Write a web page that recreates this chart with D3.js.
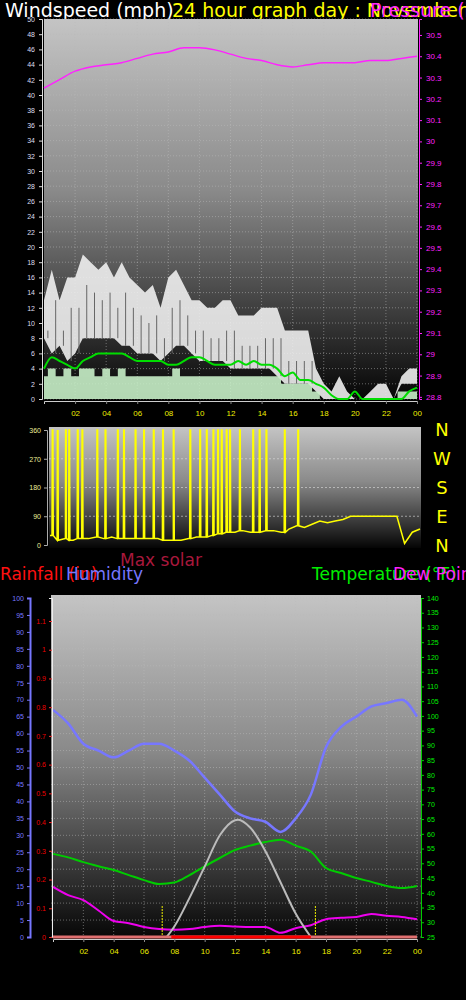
<!DOCTYPE html>
<html><head><meta charset="utf-8">
<script src="https://cdn.jsdelivr.net/npm/d3@7"></script>
<style>body{margin:0;background:#000}svg{display:block;font-family:"DejaVu Sans",sans-serif}</style>
</head><body>
<script>
// half-hour samples 0..24
const halfHours = d3.range(0, 24.01, 0.5);
const gustHi = [13,17,13,16,16,19,18,17,18,16,18,16,15,14,15,12,16,17,15,13,13,12,12,13,13,11,11,11,12,12,12,9,9,9,9,4,2,1,3,1,0,0,1,2,2,0,3,4,4];
const gustLo = [8,6,7,5,6,8,8,8,8,8,7,7,6,6,6,5,6,7,7,6,5,5,5,5,4,4,4,4,4,4,3,2,2,2,2,1,0,0,0,0,0,0,0,0,0,0,2,2,2];
const windHi = [3,4,3,4,3,4,4,3,4,3,4,3,3,3,3,3,3,4,3,3,3,3,3,3,3,3,3,3,3,3,3,2,2,2,2,1,0,0,0,0,0,0,0,0,0,0,1,1,1];
const windAvg = [4,5.5,5,4.5,4,5,5.5,6,6,6,6,5.5,5,5,5,5,4.5,4.5,5,5.5,5.5,5,4.5,4.5,4.5,5,4.5,5,4.5,4.5,4,3,3.5,2.5,2.5,2,1.5,0.5,0,0,1,0,0,0,0,0,0,1,1.5];
const dirBase = [30,15,20,15,20,20,25,20,25,20,20,20,20,20,20,15,15,15,20,25,25,30,35,40,40,45,40,40,45,45,40,50,60,55,65,75,70,75,80,90,90,90,90,90,90,90,5,40,50];
const dirSpikes = [0.17,0.5,1.03,1.25,1.8,2.1,3.07,3.6,4.4,4.8,5.55,6.1,6.73,7.33,8.02,9.1,9.74,10.17,10.6,10.9,11.14,11.46,11.68,12.32,13.18,13.6,14.04,15.23,16.1];

const hours = d3.range(0, 24.01, 1);
const pressure = [30.25,30.29,30.33,30.35,30.36,30.37,30.39,30.41,30.42,30.44,30.44,30.43,30.41,30.39,30.38,30.36,30.35,30.36,30.37,30.37,30.37,30.38,30.38,30.39,30.40];
const humidity = [67,63,57,55,53,55,57,57,55,52,47,42,37,35,34,31,35,42,56,62,65,68,69,70,65];
const temperature = [53.2,52,50.4,49,47.7,46,44.3,43,43.5,46,49,51.8,54.5,56,57.2,58,56,54,48.4,46.7,45,43.7,42.3,41.6,42.3];
const dewPoint = [42,39.2,37.5,34,30.4,29.7,28.4,27.7,27.5,27.7,28.4,28.8,28.6,28.4,28.4,26.4,28,29,31,31.5,31.8,32.8,32.2,31.8,31];
const solarHours = [7.5,8,9,10,11,12,12.2,13,14,15,16,17];
const maxSolar = [0,40,150,270,390,448,450,420,330,210,90,0];
const tickHours = d3.range(2, 24.01, 2);
const fmtHour = h => String(h % 24).padStart(2, '0');

const svg = d3.select('body').append('svg').attr('width', 466).attr('height', 1000);
const defs = svg.append('defs');
const grad = defs.append('linearGradient').attr('id', 'bg').attr('x1', 0).attr('x2', 0).attr('y1', 0).attr('y2', 1);
grad.append('stop').attr('offset', '0%').attr('stop-color', '#c4c4c4');
grad.append('stop').attr('offset', '45%').attr('stop-color', '#8a8a8a');
grad.append('stop').attr('offset', '100%').attr('stop-color', '#050505');

// ---------- titles
const title = (x, y, t, c, s) => svg.append('text').attr('x', x).attr('y', y).attr('fill', c).attr('font-size', s).text(t);
title(5, 17, 'Windspeed (mph)', '#fff', 19);
title(172, 17, '24 hour graph day : November 26 2', '#ffff00', 19);
title(370, 17, 'Pressure (in)', '#ff22ff', 19);

// ---------- top panel
const xT = d3.scaleLinear().domain([0, 24]).range([44, 417]);
const yW = d3.scaleLinear().domain([0, 50]).range([399, 19]);
const yP = d3.scaleLinear().domain([28.79, 30.575]).range([399, 19]);
svg.append('rect').attr('x', 44).attr('y', 19).attr('width', 374).attr('height', 381).attr('fill', 'url(#bg)');
const gT = svg.append('g');
gT.selectAll('.hg').data(d3.range(0, 51, 2)).join('line')
  .attr('x1', 44).attr('x2', 418).attr('y1', d => yW(d)).attr('y2', d => yW(d))
  .attr('stroke', '#bbb').attr('stroke-opacity', 0.5).attr('stroke-dasharray', '1,2');
gT.selectAll('.vg').data(tickHours).join('line')
  .attr('x1', d => xT(d)).attr('x2', d => xT(d)).attr('y1', 19).attr('y2', 399)
  .attr('stroke', '#bbb').attr('stroke-opacity', 0.5).attr('stroke-dasharray', '1,2');

gT.append('path').datum(halfHours)
  .attr('d', d3.area().x(h => xT(h)).y0((h, i) => yW(gustLo[i])).y1((h, i) => yW(gustHi[i])))
  .attr('fill', '#eee').attr('fill-opacity', 0.9);
gT.selectAll('.gs').data(halfHours).join('line')
  .attr('x1', h => xT(h + 0.25)).attr('x2', h => xT(h + 0.25))
  .attr('y1', (h, i) => yW(gustLo[i])).attr('y2', (h, i) => yW(Math.max(gustHi[i] - 4, gustLo[i])))
  .attr('stroke', '#666').attr('stroke-width', 1);
gT.append('path').datum(halfHours)
  .attr('d', d3.area().curve(d3.curveStep).x(h => xT(h)).y0(yW(0)).y1((h, i) => yW(windHi[i])))
  .attr('fill', '#c8f0c8').attr('fill-opacity', 0.9);
gT.append('path').datum(halfHours)
  .attr('d', d3.line().curve(d3.curveMonotoneX).x(h => xT(h)).y((h, i) => yW(windAvg[i])))
  .attr('fill', 'none').attr('stroke', '#00dd00').attr('stroke-width', 2);
gT.append('path').datum(hours)
  .attr('d', d3.line().curve(d3.curveMonotoneX).x(h => xT(h)).y((h, i) => yP(pressure[i])))
  .attr('fill', 'none').attr('stroke', '#ff22ff').attr('stroke-width', 1.5);

const axL = svg.append('g').attr('transform', 'translate(42,0)')
  .call(d3.axisLeft(yW).tickValues(d3.range(0, 51, 2)).tickSize(3).tickPadding(4));
axL.selectAll('text').attr('fill', '#dde').attr('font-size', 7);
axL.selectAll('line,path').attr('stroke', '#ddd');
const axR = svg.append('g').attr('transform', 'translate(419,0)')
  .call(d3.axisRight(yP).tickValues(d3.range(28.8, 30.51, 0.1)).tickFormat(d => +d.toFixed(1)).tickSize(3).tickPadding(4));
axR.selectAll('text').attr('fill', '#ff22ff').attr('font-size', 8);
axR.selectAll('line,path').attr('stroke', '#ff22ff');
const axB = svg.append('g').attr('transform', 'translate(0,401)')
  .call(d3.axisBottom(xT).tickValues(tickHours).tickFormat(fmtHour).tickSize(3).tickPadding(6));
axB.selectAll('text').attr('fill', '#ee0').attr('font-size', 8);
axB.selectAll('line').attr('stroke', '#888');
axB.select('path').attr('stroke', '#ccc');

// ---------- direction panel
const xD = d3.scaleLinear().domain([0, 24]).range([50, 420]);
const yD = d3.scaleLinear().domain([0, 360]).range([545, 430]);
svg.append('rect').attr('x', 49).attr('y', 427).attr('width', 372).attr('height', 121).attr('fill', 'url(#bg)');
svg.append('g').selectAll('line').data([90, 180, 270]).join('line')
  .attr('x1', 49).attr('x2', 421).attr('y1', d => yD(d)).attr('y2', d => yD(d))
  .attr('stroke', '#ddd').attr('stroke-opacity', 0.6).attr('stroke-dasharray', '2,2');
const dirPts = halfHours.map((h, i) => [h, dirBase[i]]);
dirSpikes.forEach(s => {
  const b = dirBase[Math.round(s * 2)];
  dirPts.push([s - 0.04, b], [s - 0.02, 360], [s + 0.02, 360], [s + 0.04, b]);
});
dirPts.sort((a, b) => a[0] - b[0]);
svg.append('path').datum(dirPts)
  .attr('d', d3.line().x(d => xD(d[0])).y(d => yD(d[1])))
  .attr('fill', 'none').attr('stroke', '#ffff00').attr('stroke-width', 1.5);
const axD = svg.append('g').attr('transform', 'translate(47,0)')
  .call(d3.axisLeft(yD).tickValues([0, 90, 180, 270, 360]).tickSize(3).tickPadding(3));
axD.selectAll('text').attr('fill', '#ee9').attr('font-size', 7);
axD.selectAll('line,path').attr('stroke', '#aaa');
svg.append('g').selectAll('text').data(['N', 'W', 'S', 'E', 'N']).join('text')
  .attr('x', 442).attr('y', (d, i) => 436 + i * 29).attr('text-anchor', 'middle')
  .attr('fill', '#ffff00').attr('font-size', 18).text(d => d);

// ---------- bottom panel labels
title(120, 566, 'Max solar', '#a8183c', 17);
title(0, 580, 'Rainfall (in)', '#ff1010', 17);
title(66, 580, 'Humidity', '#7777ff', 17);
title(312, 580, 'Temperature (°F)', '#00ee00', 17);
title(393, 580, 'Dew Point', '#ff22ff', 17);

const xB = d3.scaleLinear().domain([0, 24]).range([53, 417]);
const yH = d3.scaleLinear().domain([0, 100]).range([937, 598]);
const yR = d3.scaleLinear().domain([0, 1.18]).range([937, 598]);
const yTmp = d3.scaleLinear().domain([25, 140]).range([937, 598]);
const yS = d3.scaleLinear().domain([0, 1300]).range([937, 598]);
svg.append('rect').attr('x', 51).attr('y', 595).attr('width', 370).attr('height', 345).attr('fill', 'url(#bg)');
const gB = svg.append('g');
gB.selectAll('.hg').data(d3.range(0, 101, 5)).join('line')
  .attr('x1', 51).attr('x2', 421).attr('y1', d => yH(d)).attr('y2', d => yH(d))
  .attr('stroke', '#bbb').attr('stroke-opacity', 0.5).attr('stroke-dasharray', '1,2');
gB.selectAll('.vg').data(tickHours).join('line')
  .attr('x1', d => xB(d)).attr('x2', d => xB(d)).attr('y1', 595).attr('y2', 937)
  .attr('stroke', '#bbb').attr('stroke-opacity', 0.5).attr('stroke-dasharray', '1,2');

gB.append('path').datum(hours)
  .attr('d', d3.line().curve(d3.curveMonotoneX).x(h => xB(h)).y((h, i) => yH(humidity[i])))
  .attr('fill', 'none').attr('stroke', '#7777ff').attr('stroke-width', 2.5);
gB.append('path').datum(hours)
  .attr('d', d3.line().curve(d3.curveMonotoneX).x(h => xB(h)).y((h, i) => yTmp(temperature[i])))
  .attr('fill', 'none').attr('stroke', '#00cc00').attr('stroke-width', 2);
gB.append('path').datum(hours)
  .attr('d', d3.line().curve(d3.curveMonotoneX).x(h => xB(h)).y((h, i) => yTmp(dewPoint[i])))
  .attr('fill', 'none').attr('stroke', '#ee00ee').attr('stroke-width', 2);
gB.append('path').datum(solarHours)
  .attr('d', d3.line().curve(d3.curveMonotoneX).x(h => xB(h)).y((h, i) => yS(maxSolar[i])))
  .attr('fill', 'none').attr('stroke', '#bbb').attr('stroke-width', 2);
gB.selectAll('.sun').data([7.2, 17.3]).join('line')
  .attr('x1', d => xB(d)).attr('x2', d => xB(d)).attr('y1', 906).attr('y2', 937)
  .attr('stroke', '#ee0').attr('stroke-dasharray', '2,1');
gB.append('line').attr('x1', 53).attr('x2', 417).attr('y1', yR(0)).attr('y2', yR(0)).attr('stroke', '#e07070').attr('stroke-width', 3);
gB.append('line').attr('x1', xB(7.8)).attr('x2', xB(17)).attr('y1', yR(0)).attr('y2', yR(0)).attr('stroke', '#ff0000').attr('stroke-width', 3);

const axH = svg.append('g').attr('transform', 'translate(30,0)')
  .call(d3.axisLeft(yH).tickValues(d3.range(0, 101, 5)).tickSize(3).tickPadding(3));
axH.selectAll('text').attr('fill', '#7777ff').attr('font-size', 7);
axH.selectAll('line,path').attr('stroke', '#7777ff');
axH.select('path').attr('stroke-width', 2);
const axRain = svg.append('g').attr('transform', 'translate(52,0)')
  .call(d3.axisLeft(yR).tickValues(d3.range(0, 1.11, 0.1)).tickFormat(d => d === 0 ? '0' : +d.toFixed(1)).tickSize(3).tickPadding(3));
axRain.selectAll('text').attr('fill', '#ee0000').attr('font-size', 7);
axRain.selectAll('line').attr('stroke', '#ee3333');
axRain.select('path').attr('stroke', '#eee');
const axT = svg.append('g').attr('transform', 'translate(421,0)')
  .call(d3.axisRight(yTmp).tickValues(d3.range(25, 141, 5)).tickSize(3).tickPadding(3));
axT.selectAll('text').attr('fill', '#00ee00').attr('font-size', 7);
axT.selectAll('line,path').attr('stroke', '#00cc00');
const axB2 = svg.append('g').attr('transform', 'translate(0,939)')
  .call(d3.axisBottom(xB).tickValues(tickHours).tickFormat(fmtHour).tickSize(3).tickPadding(6));
axB2.selectAll('text').attr('fill', '#ee0').attr('font-size', 8);
axB2.selectAll('line').attr('stroke', '#888');
axB2.select('path').attr('stroke', '#ccc');
</script>
</body></html>
